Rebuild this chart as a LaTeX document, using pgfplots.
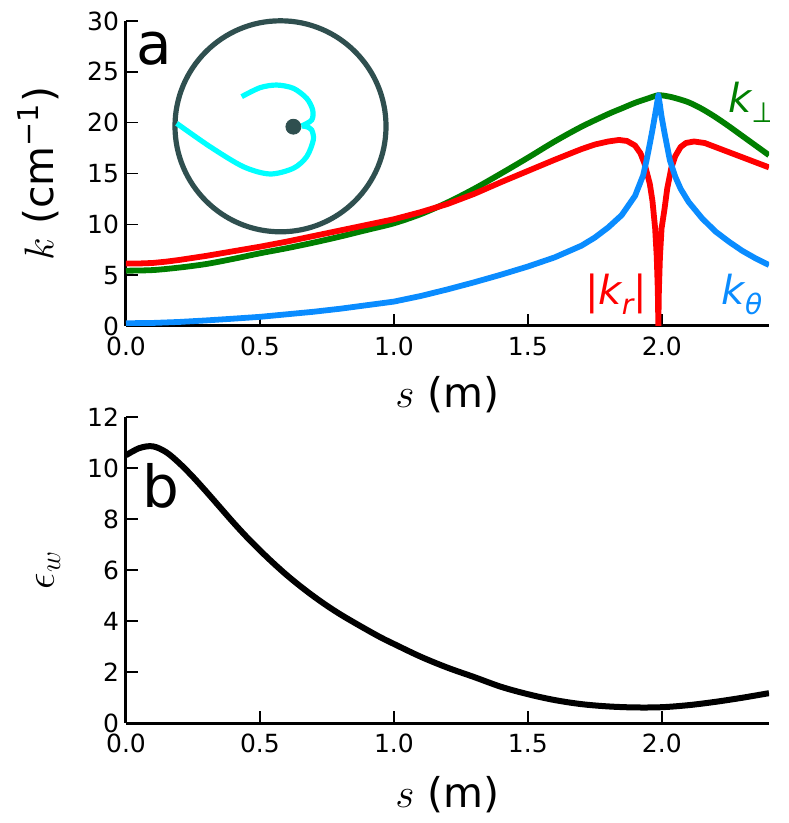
\documentclass[border=0pt]{standalone}
\usepackage{fontspec}
\setmainfont{DejaVu Sans}
\usepackage{pgfplots}
\pgfplotsset{compat=1.18}
\definecolor{kg}{HTML}{007F00}
\definecolor{kb}{HTML}{0A8CFF}
\definecolor{slate}{HTML}{2F4F4F}
\definecolor{cy}{HTML}{00FFFF}
\pgfplotsset{
  mystyle/.style={
    scale only axis, width=321.5pt,
    xmin=0, xmax=2.4,
    axis lines=left, axis line style={-, line width=1.5pt},
    xtick={0,0.5,1,1.5,2},
    xticklabel style={yshift=-2pt, /pgf/number format/.cd, fixed, fixed zerofill, precision=1},
    /pgf/number format/assume math mode=true,
    tick label style={font=\fontsize{12.5}{14}\selectfont, black},
    major tick length=6pt, tick align=inside,
    every tick/.style={black, line width=0.8pt},
    every axis x label/.style={at={(axis description cs:0.5,0)}, anchor=center, font=\fontsize{20.5}{24}\selectfont},
    every axis y label/.style={at={(axis description cs:0,0.5)}, anchor=center, rotate=90, font=\fontsize{20.5}{24}\selectfont},
    line join=round,
  }
}
\begin{document}
\begin{tikzpicture}
\path[use as bounding box] (-63pt,-248.5pt) rectangle (331pt,163pt);
\begin{axis}[mystyle, at={(0,0)}, anchor=south west, height=152.5pt,
  ymin=0, ymax=30, ytick={0,5,...,30},
  xlabel={$s$ (m)}, ylabel={$k$ (cm\textsuperscript{−1})},
  x label style={yshift=-34.5pt}, y label style={yshift=44pt}]
\addplot[kg, line width=2.9pt, smooth, tension=0.5] coordinates {
(0.00,5.44)(0.10,5.5)(0.20,5.75)(0.30,6.1)(0.40,6.6)(0.50,7.15)(0.60,7.65)(0.70,8.2)(0.80,8.8)(0.90,9.45)(1.00,10.1)(1.10,11.0)(1.20,12.15)(1.30,13.5)(1.40,15.0)(1.50,16.55)(1.60,18.15)(1.70,19.6)(1.80,20.85)(1.85,21.4)(1.90,21.95)(1.95,22.4)(1.987,22.7)(2.02,22.6)(2.05,22.42)(2.10,22.0)(2.15,21.35)(2.20,20.55)(2.25,19.65)(2.30,18.7)(2.35,17.75)(2.40,16.8)};
\addplot[red, line width=2.9pt] coordinates {
(0.00,6.15)(0.05,6.15)(0.10,6.2)(0.15,6.33)(0.20,6.5)(0.30,6.9)(0.40,7.35)(0.50,7.8)(0.60,8.3)(0.70,8.85)(0.80,9.4)(0.90,9.95)(1.00,10.5)(1.10,11.2)(1.20,12.0)(1.30,13.0)(1.40,14.15)(1.50,15.25)(1.60,16.35)(1.70,17.4)(1.75,17.85)(1.80,18.15)(1.84,18.3)(1.87,18.2)(1.90,17.75)(1.92,17.0)(1.935,16.0)(1.945,15.0)(1.955,14.0)(1.965,12.3)(1.975,9.6)(1.981,6.8)(1.985,3.5)(1.987,0)(1.989,3.5)(1.993,6.8)(1.999,9.6)(2.01,11.5)(2.02,13.5)(2.035,15.5)(2.05,16.7)(2.07,17.6)(2.09,18.0)(2.12,18.15)(2.16,18.0)(2.20,17.6)(2.25,17.1)(2.30,16.6)(2.35,16.1)(2.40,15.6)};
\addplot[kb, line width=2.9pt] coordinates {
(0.00,0.27)(0.10,0.3)(0.20,0.4)(0.30,0.55)(0.40,0.72)(0.50,0.9)(0.60,1.15)(0.70,1.4)(0.80,1.7)(0.90,2.05)(1.00,2.4)(1.10,2.95)(1.20,3.6)(1.30,4.3)(1.40,5.05)(1.50,5.85)(1.60,6.75)(1.70,7.9)(1.75,8.7)(1.80,9.7)(1.85,10.9)(1.90,12.8)(1.93,14.8)(1.943,16.3)(1.955,17.9)(1.965,19.3)(1.975,20.8)(1.982,21.9)(1.987,22.7)(1.992,21.9)(1.999,20.6)(2.01,19.0)(2.03,16.3)(2.05,14.7)(2.07,13.5)(2.10,12.2)(2.15,10.6)(2.20,9.3)(2.25,8.3)(2.30,7.4)(2.35,6.65)(2.40,6.0)};
\node[anchor=base west, inner sep=0, font=\fontsize{29}{32}\selectfont] at (rel axis cs:0.015,0.856) {a};
\node[anchor=base west, inner sep=0, kg, font=\fontsize{20}{24}\selectfont] at (axis cs:2.246,21.04) {\itshape k\raisebox{-0.25em}{\fontsize{14}{16}\selectfont\upshape ⊥}};
\node[anchor=base west, inner sep=0, red, font=\fontsize{20}{24}\selectfont] at (axis cs:1.713,2.16) {|\itshape k\raisebox{-0.25em}{\fontsize{14}{16}\selectfont r}\upshape |};
\node[anchor=base west, inner sep=0, kb, font=\fontsize{20}{24}\selectfont] at (axis cs:2.223,2.16) {\itshape k\raisebox{-0.25em}{\fontsize{14}{16}\selectfont θ}};
\end{axis}
\begin{axis}[mystyle, at={(0,-198.5pt)}, anchor=south west, height=153pt,
  ymin=0, ymax=12, ytick={0,2,...,12},
  xlabel={$s$ (m)}, ylabel={$\epsilon_w$},
  x label style={yshift=-36pt}, y label style={yshift=39pt}]
\addplot[black, line width=3pt, smooth, tension=0.55] coordinates {
(0.00,10.5)(0.05,10.78)(0.10,10.85)(0.15,10.62)(0.20,10.18)(0.25,9.65)(0.30,9.07)(0.35,8.47)(0.40,7.87)(0.45,7.3)(0.50,6.77)(0.55,6.27)(0.60,5.8)(0.65,5.37)(0.70,4.97)(0.75,4.6)(0.80,4.26)(0.85,3.95)(0.90,3.65)(0.95,3.36)(1.00,3.1)(1.10,2.6)(1.20,2.17)(1.30,1.8)(1.40,1.42)(1.50,1.13)(1.60,0.9)(1.70,0.74)(1.80,0.65)(1.90,0.61)(2.00,0.62)(2.10,0.7)(2.20,0.83)(2.30,0.99)(2.40,1.17)};
\node[anchor=base west, inner sep=0, font=\fontsize{29}{32}\selectfont] at (rel axis cs:0.025,0.703) {b};
\end{axis}
\begin{axis}[at={(77.25pt,99.85pt)}, anchor=center, scale only axis, width=105.5pt, height=105.5pt,
  xmin=-1, xmax=1, ymin=-1, ymax=1, hide axis, clip=false]
\draw[slate, line width=2.6pt] (axis cs:0,0) circle[radius=52.75pt];
\addplot[cy, line width=2.6pt, smooth, tension=0.5, line cap=butt] coordinates {
(-0.984,0.028)(-0.668,-0.193)(-0.352,-0.383)(-0.10,-0.452)(0.122,-0.398)(0.248,-0.288)(0.311,-0.130)(0.296,-0.035)(0.248,-0.004)(0.201,0.003)};
\addplot[cy, line width=2.6pt, smooth, tension=0.5, line cap=butt] coordinates {
(0.201,0.003)(0.296,0.060)(0.305,0.155)(0.248,0.265)(0.122,0.360)(-0.036,0.391)(-0.194,0.366)(-0.368,0.281)};
\addplot[only marks, mark=*, mark size=3.75pt, slate] coordinates {(0.122,-0.004)};
\end{axis}
\end{tikzpicture}
\end{document}
